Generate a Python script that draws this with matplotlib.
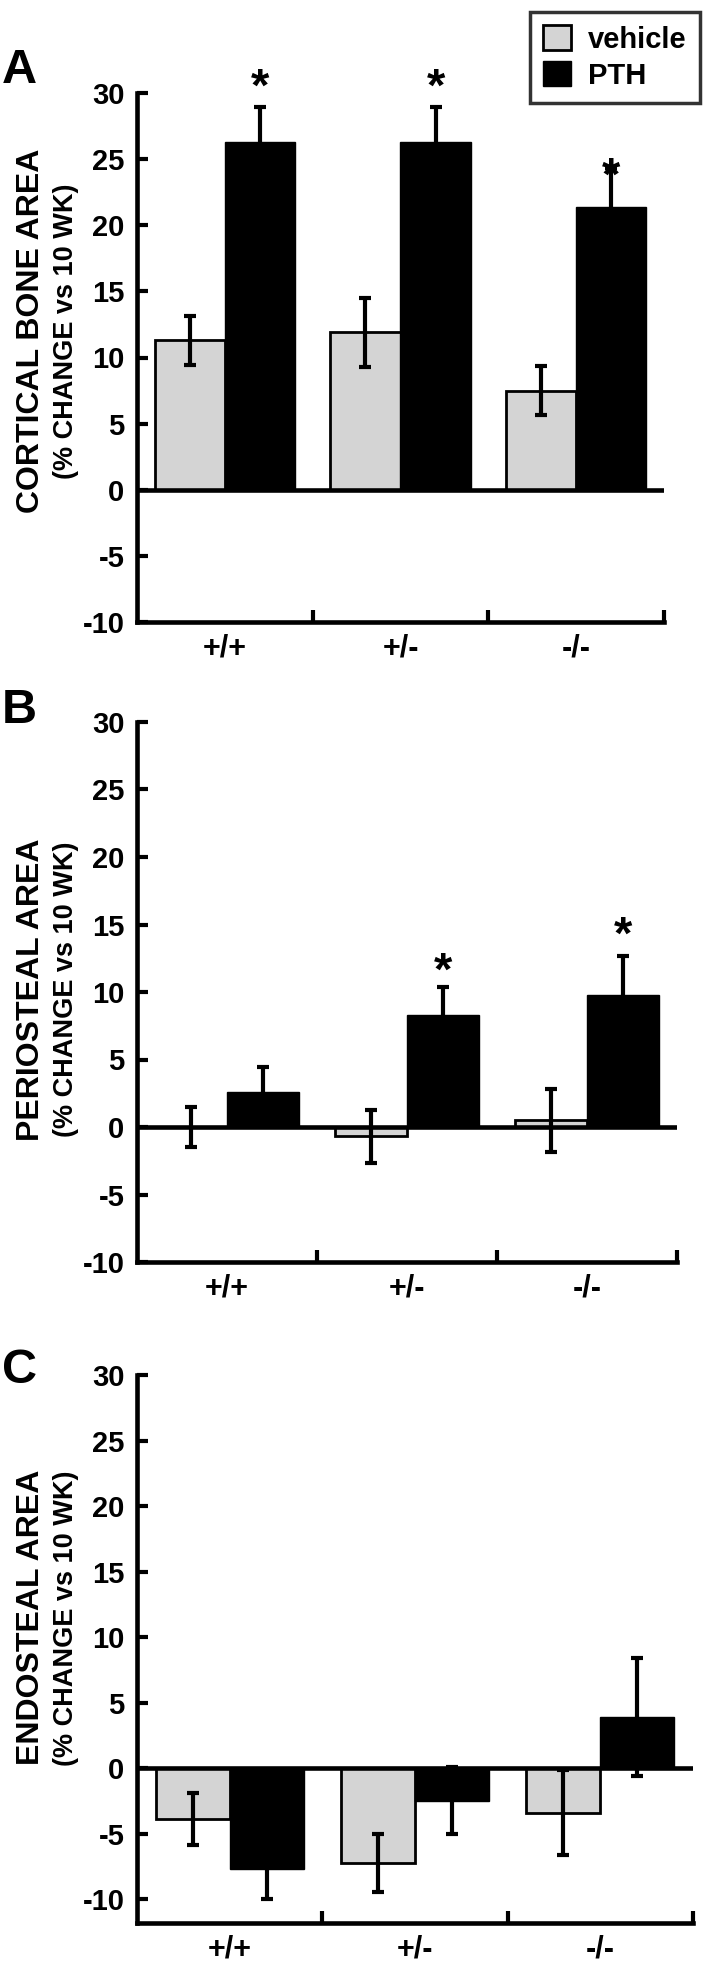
import numpy as np
import matplotlib.pyplot as plt
from matplotlib.patches import Patch

plt.rcParams['font.family'] = ['Liberation Sans', 'DejaVu Sans']
plt.rcParams['font.weight'] = 'bold'
plt.rcParams['axes.unicode_minus'] = False

genotypes = ['+/+', '+/-', '-/-']

# A: cortical bone area (% change vs 10 wk)
cort_veh = [11.3, 11.9, 7.5]
cort_veh_sem = [1.85, 2.6, 1.85]
cort_pth = [26.3, 26.3, 21.4]
cort_pth_sem = [2.65, 2.65, 2.9]
cort_star = [30.3, 30.3, 23.6]

# B: periosteal area
peri_veh = [0.0, -0.7, 0.5]
peri_veh_sem = [1.47, 1.95, 2.35]
peri_pth = [2.6, 8.3, 9.8]
peri_pth_sem = [1.85, 2.1, 2.85]
peri_star = [None, 11.4, 14.1]

# C: endosteal area
endo_veh = [-3.9, -7.25, -3.4]
endo_veh_sem = [2.0, 2.2, 3.25]
endo_pth = [-7.7, -2.5, 3.9]
endo_pth_sem = [2.3, 2.55, 4.5]
endo_star = [None, None, None]

W, H = 709, 1964
GRAY = '#d4d4d4'
fig = plt.figure(figsize=(W / 100, H / 100), dpi=100)

# (letter, label, veh, veh_err, pth, pth_err, stars, box px [left, right, top, bottom], ymin, label y frac, letter top px)
panels = [
    ('A', 'CORTICAL BONE AREA', cort_veh, cort_veh_sem, cort_pth, cort_pth_sem, cort_star,
     [137, 664, 93, 622], -10, 0.55, 48),
    ('B', 'PERIOSTEAL AREA', peri_veh, peri_veh_sem, peri_pth, peri_pth_sem, peri_star,
     [137, 677, 722, 1262], -10, 0.505, 688),
    ('C', 'ENDOSTEAL AREA', endo_veh, endo_veh_sem, endo_pth, endo_pth_sem, endo_star,
     [137, 693, 1375, 1923], -11.83, 0.557, 1348),
]

x = np.arange(len(genotypes))
lw = 3.3

for letter, label, veh, veh_e, pth, pth_e, stars, box, ymin, lab_y, let_top in panels:
    l, r, t, b = box
    ax = fig.add_axes([l / W, 1 - b / H, (r - l) / W, (b - t) / H])
    ax.bar(x - 0.2, veh, width=0.4, color=GRAY, edgecolor='black', linewidth=2, zorder=2)
    ax.bar(x + 0.2, pth, width=0.4, color='black', edgecolor='black', linewidth=1, zorder=2)
    ax.errorbar(x - 0.2, veh, yerr=veh_e, fmt='none', ecolor='black',
                elinewidth=3, capsize=4.5, capthick=3, zorder=3)
    ax.errorbar(x + 0.2, pth, yerr=pth_e, fmt='none', ecolor='black',
                elinewidth=3, capsize=4.5, capthick=3, zorder=3)
    ax.axhline(0, color='black', lw=lw, zorder=4)
    for xi, s in zip(x, stars):
        if s is not None:
            ax.text(xi + 0.2, s, '*', ha='center', va='center', fontsize=34, fontweight='bold')

    ax.set_xlim(-0.5, 2.5)
    ax.set_ylim(ymin, 30)
    ax.set_yticks(np.arange(-10, 31, 5))
    ax.set_xticks([0.5, 1.5, 2.5])
    ax.set_xticklabels([])
    ax.set_xticks(x, minor=True)
    ax.set_xticklabels(genotypes, minor=True)
    ax.tick_params(axis='y', direction='in', length=8, width=3, labelsize=21, pad=9)
    ax.tick_params(axis='x', which='major', direction='in', length=9, width=3)
    ax.tick_params(axis='x', which='minor', length=0, labelsize=22, pad=8)
    for sp in ['top', 'right']:
        ax.spines[sp].set_visible(False)
    for sp in ['left', 'bottom']:
        ax.spines[sp].set_linewidth(lw)

    # axis label (two lines) and panel letter
    yc = 1 - b / H + lab_y * (b - t) / H
    fig.text(31 / W, yc, label, rotation=90, ha='center', va='center', fontsize=23)
    fig.text(66 / W, yc, '(% CHANGE vs 10 WK)', rotation=90, ha='center', va='center', fontsize=19.5)
    fig.text(2 / W, 1 - let_top / H, letter, ha='left', va='top', fontsize=35)

leg = fig.legend(handles=[Patch(facecolor=GRAY, edgecolor='black', linewidth=2),
                          Patch(facecolor='black', edgecolor='black')],
                 labels=['vehicle', 'PTH'], loc='upper right',
                 bbox_to_anchor=(700 / W, 1 - 12 / H), borderaxespad=0, frameon=True,
                 fancybox=False, edgecolor='black', fontsize=21, handlelength=0.95,
                 handleheight=0.95, handletextpad=0.6, borderpad=0.45, labelspacing=0.25)
leg.get_frame().set_linewidth(2.5)

plt.savefig('out.png', dpi=100)
